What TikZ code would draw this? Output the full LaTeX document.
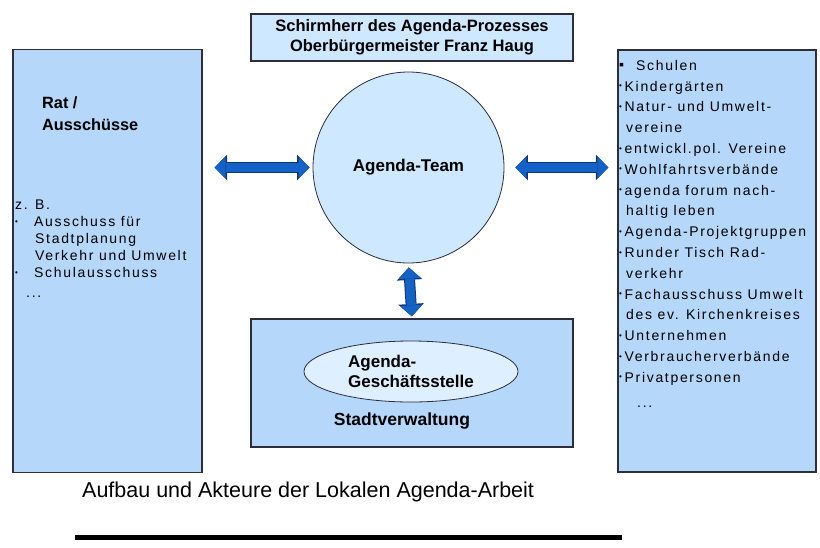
\documentclass[tikz,border=0pt]{standalone}
\usepackage{fontspec}
\setmainfont{Liberation Sans}
\newfontfamily\listfont[LetterSpace=12]{Liberation Sans}
\usepackage{tikz}
\usetikzlibrary{arrows.meta}
\usetikzlibrary{shapes.geometric}
\usetikzlibrary{positioning}

\definecolor{boxblue}{RGB}{180,215,250}
\definecolor{paleblue}{RGB}{206,232,255}
\definecolor{ovalblue}{RGB}{222,239,255}
\definecolor{arrowblue}{RGB}{18,98,200}
\definecolor{arrowedge}{RGB}{22,52,112}
\definecolor{edgegray}{RGB}{45,45,60}

\newcommand{\dotbul}[1][19pt]{\makebox[#1][l]{\raisebox{2.4pt}{\fontsize{8}{8}\selectfont\textbullet}}}

\begin{document}
\begin{tikzpicture}[x=1pt, y=-1pt,
  panel/.style={draw=edgegray, line width=1.2pt, fill=boxblue, inner sep=0pt},
  headtext/.style={font=\bfseries\fontsize{17}{20}\selectfont},
  listtext/.style={anchor=north west, inner sep=0pt, align=left},
  biglink/.style={line width=9pt, draw=arrowblue,
    {Triangle[width=22pt,length=11pt,line width=0pt]}-{Triangle[width=22pt,length=11pt,line width=0pt]},
    preaction={draw=arrowedge, line width=11pt,
      {Triangle[width=25.5pt,length=12.5pt,line width=0pt]}-{Triangle[width=25.5pt,length=12.5pt,line width=0pt]}}}]
\useasboundingbox (0,0) rectangle (820,547);

% side panels
\node[panel, minimum width=189pt, minimum height=423pt] (rat) at (107.5,261) {};
\node[panel, minimum width=198pt, minimum height=422pt] (akteure) at (717,261) {};

% patron on top
\node[panel, fill=paleblue, minimum width=322pt, minimum height=47pt, align=center,
  font=\bfseries\fontsize{16.5}{20}\selectfont] (schirm) at (412,37.5)
  {Schirmherr des Agenda-Prozesses\\Oberbürgermeister Franz Haug};

% team in the middle
\node[circle, draw=edgegray, line width=0.8pt, fill=paleblue, minimum size=191pt,
  inner sep=0pt, headtext] (team) at (408.5,167.5) {Agenda-Team};

% administration
\node[panel, minimum width=322pt, minimum height=128pt] (stadt) at (412,383) {};
\node[ellipse, draw=edgegray, line width=0.8pt, fill=ovalblue, minimum width=214pt,
  minimum height=61pt, inner sep=0pt, align=left, headtext] (oval) at (411,371.5)
  {Agenda-\\Geschäftsstelle};
\node[below=7pt of oval, xshift=-9pt, font=\bfseries\fontsize{17.5}{20}\selectfont] (verw) {Stadtverwaltung};

% texts of the left panel
\node[listtext, font=\bfseries\fontsize{16.3}{22}\selectfont] (ratlabel) at (42,96) {Rat /\\Ausschüsse};
\node[listtext, font=\listfont\fontsize{14}{17}\selectfont] (ratlist) at (15,200) {%
z. B.\\
\dotbul Ausschuss für\\
\hspace*{20pt}Stadtplanung\\
\hspace*{20pt}Verkehr und Umwelt\\
\dotbul Schulausschuss\\[3pt]
\hspace*{11pt}...};

% texts of the right panel
\node[listtext, font=\listfont\fontsize{14}{20.8}\selectfont] (aktlist) at (619,60) {%
\makebox[17pt][l]{\raisebox{1pt}{▪}}Schulen\\
\dotbul[5.5pt]Kindergärten\\
\dotbul[5.5pt]Natur- und Umwelt-\\
\hspace*{7pt}vereine\\
\dotbul[5.5pt]entwickl.pol. Vereine\\
\dotbul[5.5pt]Wohlfahrtsverbände\\
\dotbul[5.5pt]agenda forum nach-\\
\hspace*{7pt}haltig leben\\
\dotbul[5.5pt]Agenda-Projektgruppen\\
\dotbul[5.5pt]Runder Tisch Rad-\\
\hspace*{7pt}verkehr\\
\dotbul[5.5pt]Fachausschuss Umwelt\\
\hspace*{7pt}des ev. Kirchenkreises\\
\dotbul[5.5pt]Unternehmen\\
\dotbul[5.5pt]Verbraucherverbände\\
\dotbul[5.5pt]Privatpersonen\\[4pt]
\hspace*{18pt}...};

% block arrows
\draw[biglink, shorten <=12pt, shorten >=3pt] (rat.east |- team.west) -- (team.west);
\draw[biglink, shorten <=11pt, shorten >=9pt] (team.east) -- (akteure.west |- team.east);
\draw[biglink, shorten <=4pt, shorten >=2pt] (team.south) -- (stadt.north);

% caption
\node[anchor=base west, inner sep=0pt, font=\fontsize{21.5}{24}\selectfont] (caption) at (82,497)
  {Aufbau und Akteure der Lokalen Agenda-Arbeit};
\coordinate (rulestart) at (75,537);
\coordinate (ruleend) at (622,537);
\draw[line width=5pt] (rulestart) -- (ruleend);
\end{tikzpicture}
\end{document}
